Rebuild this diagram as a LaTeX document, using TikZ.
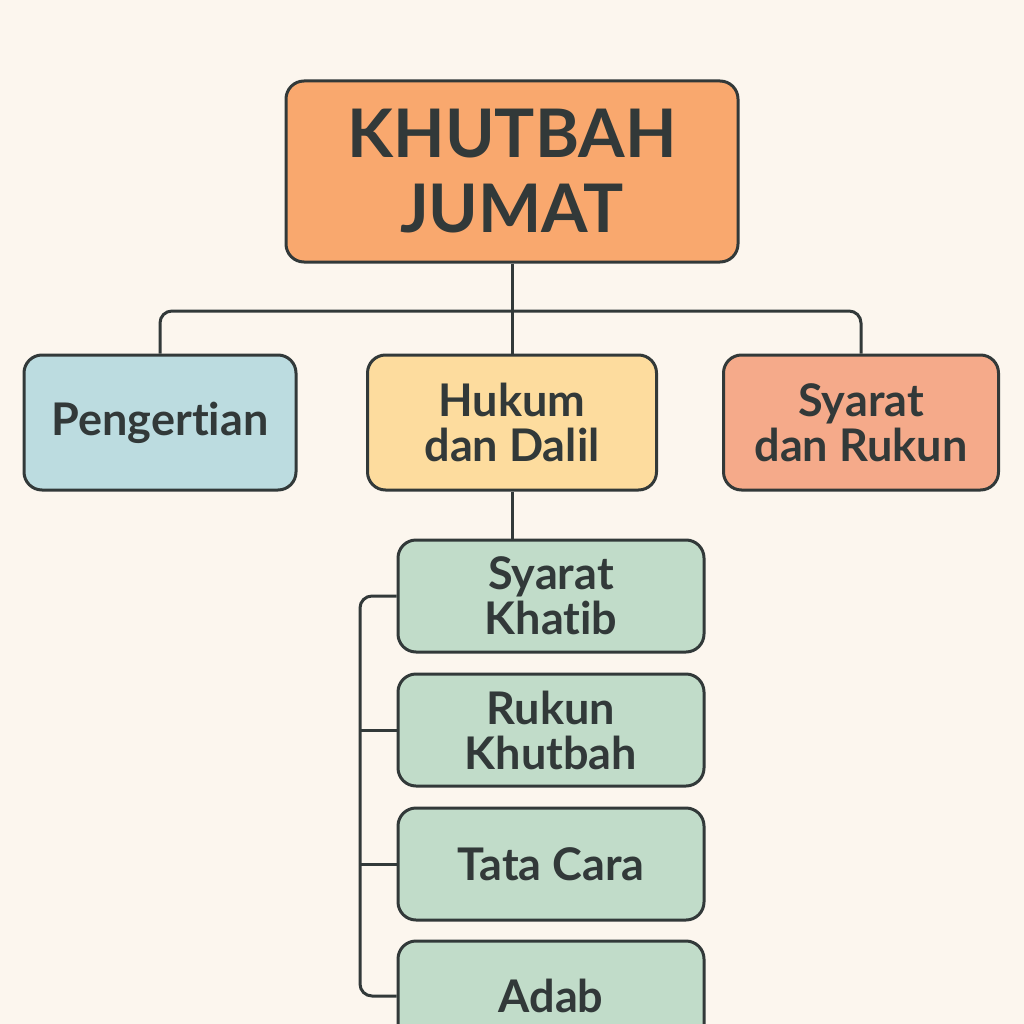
\documentclass[tikz,border=0pt]{standalone}
\usepackage{fontspec}
\setmainfont{Lato}[BoldFont={Lato Bold}, Ligatures={NoCommon}]
\definecolor{bg}{HTML}{FCF6EE}
\definecolor{ink}{HTML}{323939}
\definecolor{ctitle}{HTML}{F9A86E}
\definecolor{cblue}{HTML}{BCDCE0}
\definecolor{cyellow}{HTML}{FDDC9E}
\definecolor{csalmon}{HTML}{F5AA8A}
\definecolor{cgreen}{HTML}{C1DCC9}
\tikzset{
  box/.style={draw=ink, line width=3pt, rounded corners=18pt, text=ink, align=center, font=\bfseries\fontsize{45}{45}\selectfont, inner sep=0pt},
  conn/.style={draw=ink, line width=3pt, rounded corners=12pt}
}
\begin{document}
\begin{tikzpicture}[x=1pt,y=-1pt]
\fill[bg] (0,0) rectangle (1024,1024);
\useasboundingbox (0,0) rectangle (1024,1024);
\clip (0,0) rectangle (1024,1024);
\node[box, fill=ctitle, minimum width=452pt, minimum height=181pt, font=\bfseries\fontsize{67}{75}\selectfont] (title) at (512,171.5) {KHUTBAH\\JUMAT};
\node[box, fill=cblue, minimum width=272pt, minimum height=135pt] (peng) at (160,422.5) {Pengertian};
\node[box, fill=cyellow, minimum width=289pt, minimum height=135pt] (hukum) at (512,422.5) {Hukum\\dan Dalil};
\node[box, fill=csalmon, minimum width=275pt, minimum height=135pt] (syarat) at (861,422.5) {Syarat\\dan Rukun};
\node[box, fill=cgreen, minimum width=306pt, minimum height=112pt] (sk) at (551,596) {Syarat\\Khatib};
\node[box, fill=cgreen, minimum width=306pt, minimum height=112pt] (rk) at (551,730) {Rukun\\Khutbah};
\node[box, fill=cgreen, minimum width=306pt, minimum height=112pt] (tc) at (551,864) {Tata Cara};
\node[box, fill=cgreen, minimum width=306pt, minimum height=110pt] (adab) at (551,996) {Adab};
\coordinate (bus) at (512,311);
\coordinate (spine) at (360,596);
\draw[conn] (title.south) -- (hukum.north);
\draw[conn] (peng.north) |- (bus) -| (syarat.north);
\draw[conn] (hukum.south) -- (hukum.south |- sk.north);
\draw[conn] (sk.west) -- (spine) |- (adab.west);
\draw[conn] (rk.west) -- (rk.west -| spine);
\draw[conn] (tc.west) -- (tc.west -| spine);
\end{tikzpicture}
\end{document}
